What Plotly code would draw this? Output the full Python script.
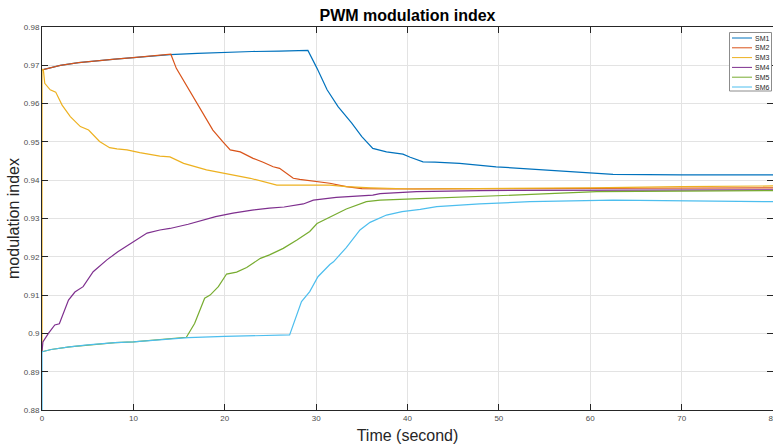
import plotly.graph_objects as go

# ---------------- data ----------------
series_names = ["SM1", "SM2", "SM3", "SM4", "SM5", "SM6"]
series_colors = ["#0072BD", "#D95319", "#EDB120", "#7E2F8E", "#77AC30", "#4DBEEE"]

sm1_t = [0, 1, 2, 4, 6, 8, 10, 12, 14, 17, 20, 23, 26, 29.1, 30.1, 31.2, 32.4, 33.9, 35.0, 36.2,
         37.7, 39.5, 40.3, 41.7, 43, 45.7, 49.7, 55.2, 60.3, 62.5, 70, 80]
sm1_v = [0.9688, 0.9694, 0.9700, 0.9707, 0.9712, 0.9716, 0.9720, 0.9724, 0.9728, 0.9731, 0.9734,
         0.9736, 0.9737, 0.9739, 0.9692, 0.9636, 0.9592, 0.9549, 0.9514, 0.9483, 0.9474, 0.9468,
         0.9460, 0.9448, 0.9447, 0.9444, 0.9435, 0.9427, 0.9418, 0.9415, 0.9414, 0.9414]

sm2_t = [0, 1, 2, 4, 6, 8, 10, 12, 14.1, 14.7, 15.5, 16.2, 17.3, 18.7, 19.8, 20.6, 21.7, 23.1, 24.2,
         25.3, 26.0, 27.5, 28.2, 30.2, 31.5, 33.3, 35, 38, 45, 55, 65, 80]
sm2_v = [0.9688, 0.9694, 0.9700, 0.9707, 0.9712, 0.9716, 0.9720, 0.9724, 0.9729, 0.9692, 0.9660,
         0.9631, 0.9588, 0.9531, 0.9500, 0.9479, 0.9474, 0.9457, 0.9447, 0.9435, 0.9431, 0.9405,
         0.9402, 0.9396, 0.9392, 0.9383, 0.9378, 0.9377, 0.9377, 0.9378, 0.9379, 0.9380]

sm3_t = [0, 0, 0.15, 0.3, 0.9, 1.5, 2.2, 3.1, 4.2, 5.1, 6.3, 7.4, 8.2, 9.3, 10.7, 12.9, 14, 15.5,
         18, 20.2, 22.8, 25.7, 28.2, 31.5, 33.3, 36, 40.6, 50, 60, 70, 80]
sm3_v = [0.8952, 0.9690, 0.9688, 0.9653, 0.9636, 0.9630, 0.9596, 0.9566, 0.9540, 0.9531, 0.9501,
         0.9485, 0.9482, 0.9479, 0.9472, 0.9463, 0.9461, 0.9444, 0.9427, 0.9416, 0.9405, 0.9387,
         0.9387, 0.9387, 0.9383, 0.9380, 0.9377, 0.9378, 0.9380, 0.9383, 0.9385]

sm4_t = [0, 0.1, 0.7, 1.4, 1.9, 2.9, 3.6, 4.5, 5.6, 7.1, 8.3, 10, 11.5, 12.9, 14, 16, 17.6, 19,
         20.9, 23, 24.9, 26.5, 28.6, 29.7, 32.2, 36.2, 37, 41, 48, 60, 80]
sm4_v = [0.8952, 0.8978, 0.9000, 0.9022, 0.9025, 0.9087, 0.9108, 0.9122, 0.9161, 0.9192, 0.9213,
         0.9240, 0.9262, 0.9270, 0.9274, 0.9285, 0.9296, 0.9305, 0.9314, 0.9322, 0.9327, 0.9330,
         0.9338, 0.9348, 0.9355, 0.9361, 0.9365, 0.9370, 0.9373, 0.9374, 0.9375]

sm5_t = [0, 1, 3, 5, 8, 10, 13, 15.8, 16.7, 17.8, 18.4, 19.3, 20.2, 21.3, 22.4, 23.9, 24.9, 26.4,
         27.9, 29.3, 30.1, 31.0, 32.2, 33.3, 35.5, 37, 40.6, 44.3, 51.6, 60.7, 70, 80]
sm5_v = [0.8952, 0.8958, 0.8965, 0.8970, 0.8976, 0.8978, 0.8984, 0.8990, 0.9026, 0.9092, 0.9100,
         0.9122, 0.9155, 0.9160, 0.9172, 0.9196, 0.9205, 0.9222, 0.9244, 0.9266, 0.9287, 0.9298,
         0.9312, 0.9325, 0.9344, 0.9348, 0.9351, 0.9355, 0.9361, 0.9370, 0.9372, 0.9373]

sm6_t = [0, 0, 1, 3, 5, 8, 10, 13, 16, 20, 24, 27.1, 28.4, 29.3, 30.2, 31.5, 31.9, 33.3, 34.8,
         35.9, 37.7, 39.4, 41.4, 43.2, 47.9, 53.4, 62.5, 70, 80]
sm6_v = [0.8800, 0.8952, 0.8958, 0.8965, 0.8970, 0.8976, 0.8978, 0.8984, 0.8989, 0.8992, 0.8994,
         0.8996, 0.9083, 0.9109, 0.9148, 0.9180, 0.9187, 0.9224, 0.9270, 0.9290, 0.9309, 0.9318,
         0.9324, 0.9331, 0.9338, 0.9344, 0.9348, 0.9346, 0.9344]

x_tick_vals = [0, 10, 20, 30, 40, 50, 60, 70, 80]
x_tick_labels = ["0", "10", "20", "30", "40", "50", "60", "70", "80"]
y_tick_vals = [0.88, 0.89, 0.90, 0.91, 0.92, 0.93, 0.94, 0.95, 0.96, 0.97, 0.98]
y_tick_labels = ["0.88", "0.89", "0.9", "0.91", "0.92", "0.93", "0.94", "0.95", "0.96", "0.97", "0.98"]

title_text = "PWM modulation index"
x_title = "Time (second)"
y_title = "modulation index"

# ---------------- figure ----------------
all_t = [sm1_t, sm2_t, sm3_t, sm4_t, sm5_t, sm6_t]
all_v = [sm1_v, sm2_v, sm3_v, sm4_v, sm5_v, sm6_v]

fig = go.Figure()
for name, color, t, v in zip(series_names, series_colors, all_t, all_v):
    fig.add_trace(go.Scatter(x=t, y=v, mode="lines", name=name,
                             line=dict(color=color, width=1.2), showlegend=False))

FONT = "Liberation Sans, Arial, Helvetica, sans-serif"
W, H = 773, 445
ML, MR, MT, MB = 42, 0, 27, 35

fig.update_layout(
    width=W, height=H,
    margin=dict(l=ML, r=MR, t=MT, b=MB, pad=0, autoexpand=False),
    paper_bgcolor="white", plot_bgcolor="white",
    font=dict(family=FONT, color="#262626"),
    title=dict(text=title_text, x=(ML + (W - ML - MR) / 2) / W, xanchor="center",
               y=1 - 15 / H, yanchor="middle", yref="container", xref="container",
               font=dict(size=16, color="#000000", weight="bold", family=FONT)),
)

fig.update_xaxes(
    range=[0, 80], tickmode="array", tickvals=x_tick_vals, ticktext=x_tick_labels,
    showgrid=True, gridcolor="#e3e3e3", gridwidth=1, zeroline=False,
    showline=True, linecolor="#262626", linewidth=1, mirror="ticks",
    ticks="inside", ticklen=6, tickwidth=1, tickcolor="#262626",
    ticklabeloverflow="allow", automargin=False,
    tickfont=dict(size=8, color="#4d4d4d", family=FONT),
    title=dict(text=x_title, font=dict(size=16, color="#262626", family=FONT), standoff=8),
)
fig.update_yaxes(
    range=[0.88, 0.98], tickmode="array", tickvals=y_tick_vals, ticktext=y_tick_labels,
    showgrid=True, gridcolor="#e3e3e3", gridwidth=1, zeroline=False,
    showline=True, linecolor="#262626", linewidth=1, mirror="ticks",
    ticks="inside", ticklen=6, tickwidth=1, tickcolor="#262626",
    automargin=False,
    tickfont=dict(size=8, color="#4d4d4d", family=FONT),
    title=dict(text=y_title, font=dict(size=16, color="#262626", family=FONT), standoff=0),
)

# ---------------- compact legend (MATLAB style) ----------------
pw = W - ML - MR
ph = H - MT - MB
def px_x(p):
    return (p - ML) / pw
def px_y(p):
    return (H - MB - p) / ph

box_l, box_r, box_t, box_b = 729.5, 771.5, 32.5, 91
fig.add_shape(type="rect", xref="paper", yref="paper",
              x0=px_x(box_l), x1=px_x(box_r), y0=px_y(box_b), y1=px_y(box_t),
              line=dict(color="#8c8c8c", width=1), fillcolor="white", layer="above")
for i, (name, color) in enumerate(zip(series_names, series_colors)):
    yc = 38 + i * 9.8
    fig.add_shape(type="line", xref="paper", yref="paper",
                  x0=px_x(732), x1=px_x(752), y0=px_y(yc), y1=px_y(yc),
                  line=dict(color=color, width=1), layer="above")
    fig.add_annotation(text=name, xref="paper", yref="paper",
                       x=px_x(753), y=px_y(yc), xanchor="left", yanchor="middle",
                       showarrow=False, font=dict(size=7, color="#262626", family=FONT))

fig.write_html("out.html")
